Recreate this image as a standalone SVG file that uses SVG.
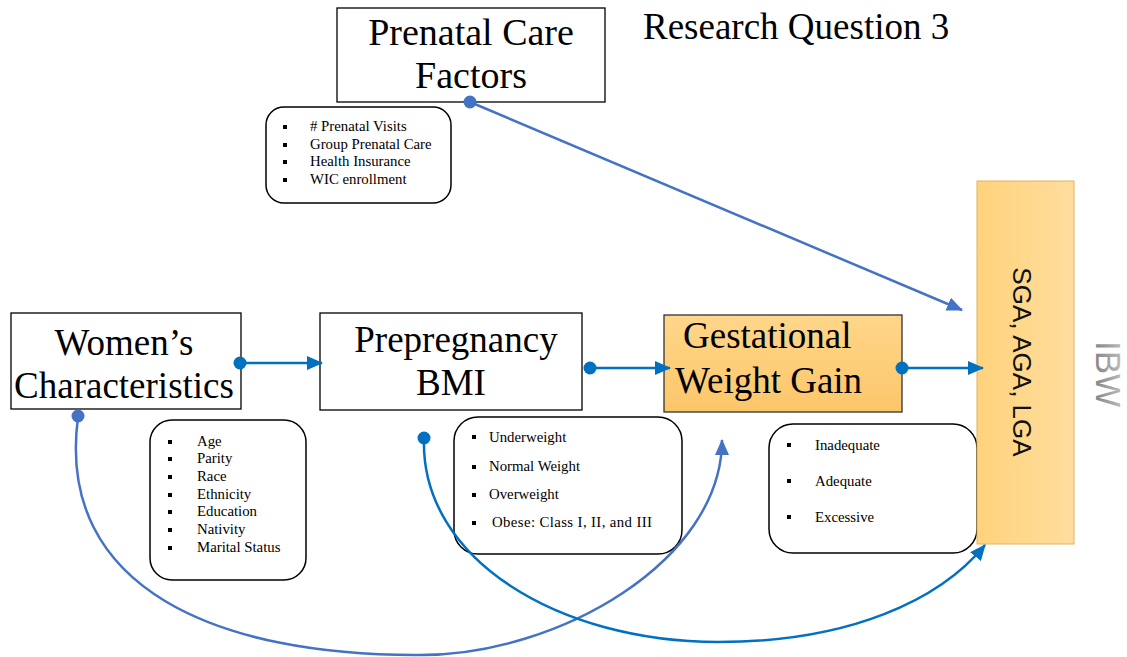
<svg xmlns="http://www.w3.org/2000/svg" width="1127" height="657" viewBox="0 0 1127 657">
<style>
.box{fill:#fff;stroke:#000;stroke-width:1.3}
.lst{fill:#fff;stroke:#000;stroke-width:1.5}
.big{font-family:"Liberation Serif","Times New Roman",serif;font-size:37px;fill:#000}
.sm{font-family:"Liberation Serif","Times New Roman",serif;font-size:14.8px;fill:#000}
.b{fill:#000}
.c1{fill:none;stroke:#4472C4;stroke-width:2.5}
.c2{fill:none;stroke:#0070C0;stroke-width:2.5}
</style>
<defs>
<marker id="a1" markerUnits="userSpaceOnUse" markerWidth="16" markerHeight="14" refX="15" refY="7" orient="auto"><path d="M0,0 L16,7 L0,14 z" fill="#4472C4"/></marker>
<marker id="a2" markerUnits="userSpaceOnUse" markerWidth="16" markerHeight="14" refX="15" refY="7" orient="auto"><path d="M0,0 L16,7 L0,14 z" fill="#0070C0"/></marker>
<linearGradient id="gy" x1="0" y1="0" x2="0" y2="1"><stop offset="0" stop-color="#FFD68A"/><stop offset="1" stop-color="#FCC66A"/></linearGradient>
<linearGradient id="gx" x1="0" y1="0" x2="1" y2="0"><stop offset="0" stop-color="#FFD37C"/><stop offset="1" stop-color="#FFDD9E"/></linearGradient>
<linearGradient id="gi" x1="0" y1="0" x2="0" y2="1"><stop offset="0" stop-color="#c8c8c8"/><stop offset="1" stop-color="#7a7a7a"/></linearGradient>
</defs>

<text x="643" y="39" class="big">Research Question 3</text>

<g id="prenatal">
<rect x="337" y="8" width="268" height="94" class="box"/>
<text x="471" y="45" class="big" style="font-size:38px" text-anchor="middle">Prenatal Care</text>
<text x="471" y="88" class="big" style="font-size:38px" text-anchor="middle">Factors</text>
</g>

<g id="prenatal-list">
<rect x="266" y="107" width="185" height="96" rx="18" class="lst"/>
<rect x="283" y="125" width="4" height="4" class="b"/>
<rect x="283" y="143" width="4" height="4" class="b"/>
<rect x="283" y="160" width="4" height="4" class="b"/>
<rect x="283" y="178" width="4" height="4" class="b"/>
<text x="310" y="131" class="sm"># Prenatal Visits</text>
<text x="310" y="149" class="sm">Group Prenatal Care</text>
<text x="310" y="166" class="sm">Health Insurance</text>
<text x="310" y="184" class="sm">WIC enrollment</text>
</g>

<g id="women">
<rect x="11" y="313" width="230" height="96" class="box"/>
<text x="124" y="355" class="big" text-anchor="middle">Women’s</text>
<text x="124" y="398" class="big" text-anchor="middle">Characteristics</text>
</g>

<g id="women-list">
<rect x="150" y="420" width="156" height="160" rx="22" class="lst"/>
<g class="b">
<rect x="168" y="440" width="4" height="4"/>
<rect x="168" y="457" width="4" height="4"/>
<rect x="168" y="475" width="4" height="4"/>
<rect x="168" y="493" width="4" height="4"/>
<rect x="168" y="510" width="4" height="4"/>
<rect x="168" y="528" width="4" height="4"/>
<rect x="168" y="546" width="4" height="4"/>
</g>
<text x="197" y="446" class="sm">Age</text>
<text x="197" y="463" class="sm">Parity</text>
<text x="197" y="481" class="sm">Race</text>
<text x="197" y="499" class="sm">Ethnicity</text>
<text x="197" y="516" class="sm">Education</text>
<text x="197" y="534" class="sm">Nativity</text>
<text x="197" y="552" class="sm">Marital Status</text>
</g>

<g id="bmi">
<rect x="320" y="313" width="262" height="97" class="box"/>
<text x="456" y="352" class="big" text-anchor="middle">Prepregnancy</text>
<text x="451" y="395" class="big" text-anchor="middle">BMI</text>
</g>

<g id="bmi-list">
<rect x="454" y="417" width="228" height="137" rx="24" class="lst"/>
<g class="b">
<rect x="472" y="435" width="4" height="4"/>
<rect x="472" y="465" width="4" height="4"/>
<rect x="472" y="493" width="4" height="4"/>
<rect x="472" y="521" width="4" height="4"/>
</g>
<text x="489" y="442" class="sm">Underweight</text>
<text x="489" y="471" class="sm">Normal Weight</text>
<text x="489" y="499" class="sm">Overweight</text>
<text x="492" y="527" class="sm" textLength="160" lengthAdjust="spacing">Obese: Class I, II, and III</text>
</g>

<g id="gwg">
<rect x="664" y="315" width="238" height="97" fill="url(#gy)" stroke="#333" stroke-width="1.3"/>
<text x="683" y="348" class="big">Gestational</text>
<text x="675" y="393" class="big">Weight Gain</text>
</g>

<g id="gwg-list">
<rect x="769" y="424" width="208" height="129" rx="24" class="lst"/>
<g class="b">
<rect x="787" y="443" width="4" height="4"/>
<rect x="787" y="479" width="4" height="4"/>
<rect x="787" y="515" width="4" height="4"/>
</g>
<text x="815" y="450" class="sm">Inadequate</text>
<text x="815" y="486" class="sm">Adequate</text>
<text x="815" y="522" class="sm">Excessive</text>
</g>

<g id="outcome">
<rect x="977" y="181" width="97" height="363" fill="url(#gx)" stroke="#E2B45C" stroke-width="1"/>
<text transform="translate(1013,362) rotate(90)" text-anchor="middle" font-family="'Liberation Sans',Arial,sans-serif" font-size="26" fill="#111">SGA, AGA, LGA</text>
</g>

<g id="ibw">
<text transform="translate(1096,374) rotate(90)" text-anchor="middle" font-family="'Liberation Sans',Arial,sans-serif" font-size="35" fill="url(#gi)">IBW</text>
</g>

<g id="connectors">
<line x1="240" y1="363" x2="322" y2="363" class="c2" marker-end="url(#a2)"/>
<circle cx="240" cy="363" r="6.5" fill="#0070C0"/>
<line x1="590" y1="368" x2="670" y2="368" class="c2" marker-end="url(#a2)"/>
<circle cx="590" cy="368" r="6.5" fill="#0070C0"/>
<line x1="902" y1="368" x2="983" y2="368" class="c2" marker-end="url(#a2)"/>
<circle cx="902" cy="368" r="6.5" fill="#0070C0"/>
<line x1="470" y1="102" x2="962" y2="310" class="c1" marker-end="url(#a1)"/>
<circle cx="470" cy="102" r="6.5" fill="#4472C4"/>
<path d="M78,417 C55,590 220,656 420,655 C560,655 722,560 722,440" class="c1" marker-end="url(#a1)"/>
<circle cx="78" cy="416" r="6.5" fill="#4472C4"/>
<path d="M424,438 C420,560 560,642 718,642 C850,642 940,600 985,545" class="c2" marker-end="url(#a2)"/>
<circle cx="424" cy="438" r="6.5" fill="#0070C0"/>
</g>
</svg>
